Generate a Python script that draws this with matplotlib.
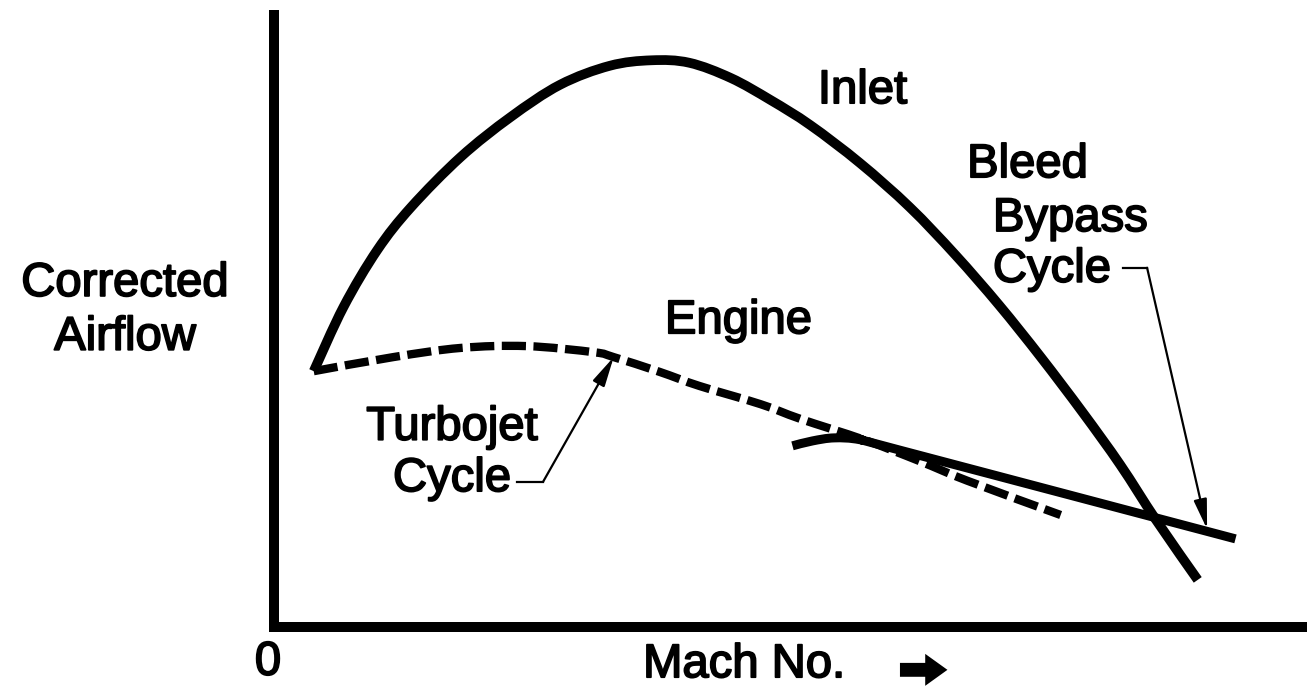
import matplotlib
matplotlib.use("Agg")
import matplotlib.pyplot as plt
import matplotlib.patheffects as pe
from matplotlib.path import Path
from matplotlib.patches import PathPatch, FancyArrowPatch

plt.rcParams['font.family'] = ['Liberation Sans', 'DejaVu Sans']

# ---- data (Mach number vs corrected airflow, arbitrary units) ----
inlet_mach = [0.20, 0.35, 0.52, 0.69, 0.94, 1.19, 1.44, 1.69, 1.90, 2.09, 2.30,
              2.50, 2.70, 2.95, 3.20, 3.43, 3.65, 3.86, 4.07, 4.26, 4.44, 4.65]
inlet_flow = [41.8, 52.3, 61.6, 68.6, 76.8, 83.3, 88.6, 91.7, 92.6, 92.2, 89.7,
              86.1, 82.0, 75.8, 68.6, 60.8, 52.6, 44.1, 35.1, 26.5, 17.5, 7.7]

engine_mach = [0.20, 0.60, 0.94, 1.27, 1.61, 1.71, 1.94, 2.14, 2.45, 2.65,
               2.97, 3.25, 3.49, 3.96]
engine_flow = [41.8, 44.1, 45.6, 45.9, 44.9, 44.1, 41.7, 39.4, 36.4, 34.0,
               30.6, 27.1, 23.9, 18.3]

bypass_mach = [2.61, 2.71, 2.82, 2.95, 3.15, 4.84]
bypass_flow = [29.6, 30.4, 30.9, 30.6, 28.9, 14.4]

x_max = 5.2
y_max = 100


def smooth_path(xs, ys):
    """Catmull-Rom style Bezier path through the given points."""
    pts = list(zip(xs, ys))
    n = len(pts)
    verts = [pts[0]]
    codes = [Path.MOVETO]
    for i in range(n - 1):
        p0 = pts[i - 1] if i > 0 else pts[i]
        p1 = pts[i]
        p2 = pts[i + 1]
        p3 = pts[i + 2] if i + 2 < n else pts[i + 1]
        c1 = (p1[0] + (p2[0] - p0[0]) / 6, p1[1] + (p2[1] - p0[1]) / 6)
        c2 = (p2[0] - (p3[0] - p1[0]) / 6, p2[1] - (p3[1] - p1[1]) / 6)
        verts += [c1, c2, p2]
        codes += [Path.CURVE4] * 3
    return Path(verts, codes)


W, H = 1307, 687
fig = plt.figure(figsize=(W / 100, H / 100), dpi=100)
ax = fig.add_axes([274 / W, 60 / H, 1 - 274 / W, 612 / H])
ax.set_xlim(0, x_max)
ax.set_ylim(0, y_max)
ax.set_xticks([])
ax.set_yticks([])
for s in ('top', 'right'):
    ax.spines[s].set_visible(False)
for s in ('left', 'bottom'):
    ax.spines[s].set_linewidth(7.2)
    ax.spines[s].set_color('black')
    ax.spines[s].set_capstyle('projecting')

ax.add_patch(PathPatch(smooth_path(inlet_mach, inlet_flow), fill=False,
                       edgecolor='black', lw=7, capstyle='butt',
                       joinstyle='round', clip_on=False))
ax.add_patch(PathPatch(smooth_path(engine_mach, engine_flow), fill=False,
                       edgecolor='black', lw=6, linestyle=(0, (2.9, 0.9)),
                       capstyle='butt', clip_on=False))
ax.add_patch(PathPatch(smooth_path(bypass_mach, bypass_flow), fill=False,
                       edgecolor='black', lw=6.5, capstyle='butt',
                       joinstyle='round', clip_on=False))

fs = 34
stroke = [pe.withStroke(linewidth=1.3, foreground='black')]
txt = dict(fontsize=fs, color='black', va='baseline', path_effects=stroke)
ax.text(2.738, 85.6, 'Inlet', ha='left', **txt)
ax.text(3.489, 73.5, 'Bleed', ha='left', **txt)
ax.text(3.619, 64.7, 'Bypass', ha='left', **txt)
ax.text(3.619, 56.4, 'Cycle', ha='left', **txt)
ax.text(1.968, 48.0, 'Engine', ha='left', **txt)
ax.text(0.896, 30.6, 'Turbojet', ha='center', **txt)
ax.text(0.896, 22.2, 'Cycle', ha='center', **txt)
ax.text(-0.75, 54.1, 'Corrected', ha='center', **txt)
ax.text(-0.75, 45.3, 'Airflow', ha='center', **txt)
ax.text(-0.03, -7.8, '0', ha='center', **txt)
ax.text(1.858, -8.2, 'Mach No.', ha='left', **txt)

# block arrow after "Mach No."
ax.add_patch(FancyArrowPatch((3.151, -7.0), (3.39, -7.0),
                             arrowstyle='simple,head_length=16,head_width=23,tail_width=10',
                             mutation_scale=1, color='black', lw=0,
                             shrinkA=0, shrinkB=0, clip_on=False))

arrow_kw = dict(arrowstyle='-|>,head_length=0.9,head_width=0.2',
                color='black', lw=1.6, mutation_scale=20, shrinkA=0, shrinkB=0)

# Turbojet cycle leader
ax.plot([1.223, 1.354], [23.7, 23.7], color='black', lw=1.6)
ax.annotate('', xy=(engine_mach[5], engine_flow[5]), xytext=(1.354, 23.7),
            arrowprops=arrow_kw)

# Bleed bypass cycle leader
ax.plot([4.274, 4.395], [58.7, 58.7], color='black', lw=1.6)
ax.annotate('', xy=(4.697, 16.0), xytext=(4.395, 58.7), arrowprops=arrow_kw)

fig.savefig('out.png', dpi=100)
